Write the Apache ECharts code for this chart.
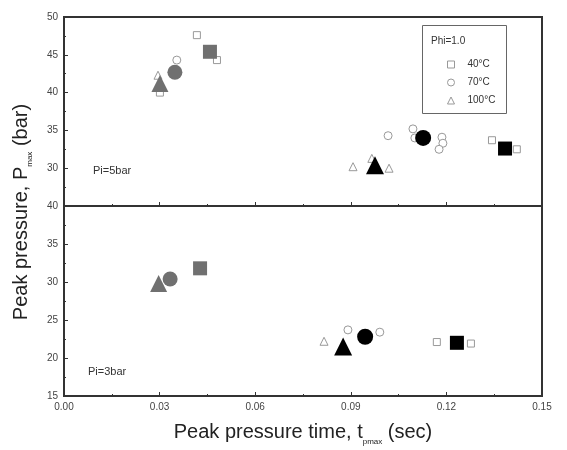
<!DOCTYPE html>
<html><head><meta charset="utf-8">
<script src="https://cdn.jsdelivr.net/npm/echarts@6/dist/echarts.min.js"></script>
<style>html,body{margin:0;padding:0;background:#fff}#c{width:567px;height:450px}</style>
</head><body><div id="c"></div>
<script>
// ---- data ----
const xTicks = [0.00, 0.03, 0.06, 0.09, 0.12, 0.15];
const legendNames = ['40°C', '70°C', '100°C'];
// top panel (Pi=5bar)
const top40open  = [[0.0417, 47.6], [0.048, 44.3], [0.0301, 40.0], [0.1343, 33.7], [0.1421, 32.5]];
const top70open  = [[0.0354, 44.3], [0.1017, 34.3], [0.1095, 35.2], [0.1101, 34.0], [0.1186, 34.1], [0.1189, 33.3], [0.1177, 32.5]];
const top100open = [[0.0295, 42.3], [0.0907, 30.2], [0.1020, 30.0], [0.0966, 31.3]];
const topGraySquare = [[0.0458, 45.4]];
const topGrayCircle = [[0.0348, 42.7]];
const topGrayTri    = [[0.0301, 41.2]];
const topBlackSquare = [[0.1384, 32.6]];
const topBlackCircle = [[0.1127, 34.0]];
const topBlackTri    = [[0.0976, 30.4]];
// bottom panel (Pi=3bar)
const bot40open  = [[0.1170, 22.1], [0.1277, 21.9]];
const bot70open  = [[0.0891, 23.7], [0.0991, 23.4]];
const bot100open = [[0.0816, 22.2]];
const botGraySquare = [[0.0427, 31.8]];
const botGrayCircle = [[0.0333, 30.4]];
const botGrayTri    = [[0.0297, 29.8]];
const botBlackSquare = [[0.1233, 22.0]];
const botBlackCircle = [[0.0945, 22.8]];
const botBlackTri    = [[0.0876, 21.5]];

// ---- layout ----
const L = 64, W = 478, T0 = 17, H0 = 189, T1 = 206, H1 = 190;
const FONT = '"Liberation Sans", Arial, sans-serif';
const axisCol = '#333';
const openStyle = {color: '#fff', borderColor: '#999', borderWidth: 1, opacity: 1};

function xAxis(gi, showLabel) {
  return {
    type: 'value', gridIndex: gi, min: 0, max: 0.15, interval: 0.03,
    axisLine: {show: true, lineStyle: {color: axisCol, width: 2}},
    axisTick: {show: true, inside: true, length: 4, lineStyle: {color: axisCol}},
    minorTick: {show: true, splitNumber: 2, length: 2, lineStyle: {color: axisCol}},
    splitLine: {show: false},
    axisLabel: {show: showLabel, fontSize: 10, color: '#444', fontFamily: FONT, margin: 6,
      formatter: v => v.toFixed(2)}
  };
}
function yAxis(gi, min, max, hideVal) {
  return {
    type: 'value', gridIndex: gi, min: min, max: max, interval: 5,
    axisLine: {show: true, lineStyle: {color: axisCol, width: 2}},
    axisTick: {show: true, inside: true, length: 4, lineStyle: {color: axisCol}},
    minorTick: {show: true, splitNumber: 2, length: 2, lineStyle: {color: axisCol}},
    splitLine: {show: false},
    axisLabel: {fontSize: 10, color: '#444', fontFamily: FONT, margin: 6,
      formatter: v => (v === hideVal ? '' : String(v))}
  };
}
function sc(name, gi, data, symbol, size, style, z) {
  return {type: 'scatter', name: name, xAxisIndex: gi, yAxisIndex: gi, data: data,
    symbol: symbol, symbolSize: size, itemStyle: style, z: z || 2,
    emphasis: {disabled: true}, silent: true};
}
const gray = {color: '#707070', opacity: 1}, black = {color: '#000', opacity: 1};

// ---- text measuring for composite titles ----
const mctx = document.createElement('canvas').getContext('2d');
function tw(s, size) { mctx.font = size + 'px ' + FONT; return mctx.measureText(s).width; }

function compositeTitle(main, sub, tail, size, subSize, subDy) {
  const w1 = tw(main, size), w2 = tw(sub, subSize), w3 = tw(tail, size);
  const tot = w1 + w2 + w3;
  let x = -tot / 2;
  const ch = [];
  ch.push({type: 'text', x: x, y: 0, style: {text: main, font: size + 'px ' + FONT, fill: '#222', verticalAlign: 'middle'}});
  x += w1;
  ch.push({type: 'text', x: x, y: subDy, style: {text: sub, font: subSize + 'px ' + FONT, fill: '#222', verticalAlign: 'middle'}});
  x += w2;
  ch.push({type: 'text', x: x, y: 0, style: {text: tail, font: size + 'px ' + FONT, fill: '#222', verticalAlign: 'middle'}});
  return ch;
}

const chart = echarts.init(document.getElementById('c'), null, {renderer: 'canvas'});
chart.setOption({
  animation: false,
  backgroundColor: '#fff',
  grid: [
    {left: L, top: T0, width: W, height: H0, show: true, borderColor: axisCol, borderWidth: 2, backgroundColor: 'transparent'},
    {left: L, top: T1, width: W, height: H1, show: true, borderColor: axisCol, borderWidth: 2, backgroundColor: 'transparent'}
  ],
  xAxis: [xAxis(0, false), xAxis(1, true)],
  yAxis: [yAxis(0, 25, 50, 25), yAxis(1, 15, 40, null)],
  legend: {
    data: legendNames, orient: 'vertical', left: 442, top: 54,
    itemWidth: 7, itemHeight: 7, itemGap: 7,
    itemStyle: {borderWidth: 1, borderColor: '#999', color: '#fff'},
    textStyle: {fontSize: 10, fontFamily: FONT, color: '#333', padding: [0, 0, 0, 8], lineHeight: 11},
    selectedMode: false
  },
  series: [
    sc(legendNames[0], 0, top40open, 'rect', 7, openStyle),
    sc(legendNames[1], 0, top70open, 'circle', 8, openStyle),
    sc(legendNames[2], 0, top100open, 'triangle', 8, openStyle),
    sc('g1', 0, topGraySquare, 'rect', 14, gray, 3),
    sc('g2', 0, topGrayCircle, 'circle', 15, gray, 3),
    sc('g3', 0, topGrayTri, 'triangle', 17, gray, 3),
    sc('b1', 0, topBlackSquare, 'rect', 14, black, 3),
    sc('b2', 0, topBlackCircle, 'circle', 16, black, 3),
    sc('b3', 0, topBlackTri, 'triangle', 18, black, 3),
    sc(legendNames[0], 1, bot40open, 'rect', 7, openStyle),
    sc(legendNames[1], 1, bot70open, 'circle', 8, openStyle),
    sc(legendNames[2], 1, bot100open, 'triangle', 8, openStyle),
    sc('g1', 1, botGraySquare, 'rect', 14, gray, 3),
    sc('g2', 1, botGrayCircle, 'circle', 15, gray, 3),
    sc('g3', 1, botGrayTri, 'triangle', 17, gray, 3),
    sc('b1', 1, botBlackSquare, 'rect', 14, black, 3),
    sc('b2', 1, botBlackCircle, 'circle', 16, black, 3),
    sc('b3', 1, botBlackTri, 'triangle', 18, black, 3)
  ],
  graphic: [
    {type: 'rect', shape: {x: 422.5, y: 25.5, width: 84, height: 88}, style: {fill: 'transparent', stroke: '#666', lineWidth: 1}, z: 10},
    {type: 'text', x: 431, y: 41, style: {text: 'Phi=1.0', font: '10px ' + FONT, fill: '#333', verticalAlign: 'middle'}, z: 10},
    {type: 'text', x: 93, y: 171, style: {text: 'Pi=5bar', font: '11px ' + FONT, fill: '#333', verticalAlign: 'middle'}, z: 10},
    {type: 'text', x: 88, y: 372, style: {text: 'Pi=3bar', font: '11px ' + FONT, fill: '#333', verticalAlign: 'middle'}, z: 10},
    {type: 'group', x: 303, y: 432, children: compositeTitle('Peak pressure time, t', 'pmax', ' (sec)', 20, 8, 10)},
    {type: 'group', x: 21, y: 212, rotation: Math.PI / 2, children: compositeTitle('Peak pressure, P', 'max', ' (bar)', 20, 8, 9)}
  ]
});
</script></body></html>
